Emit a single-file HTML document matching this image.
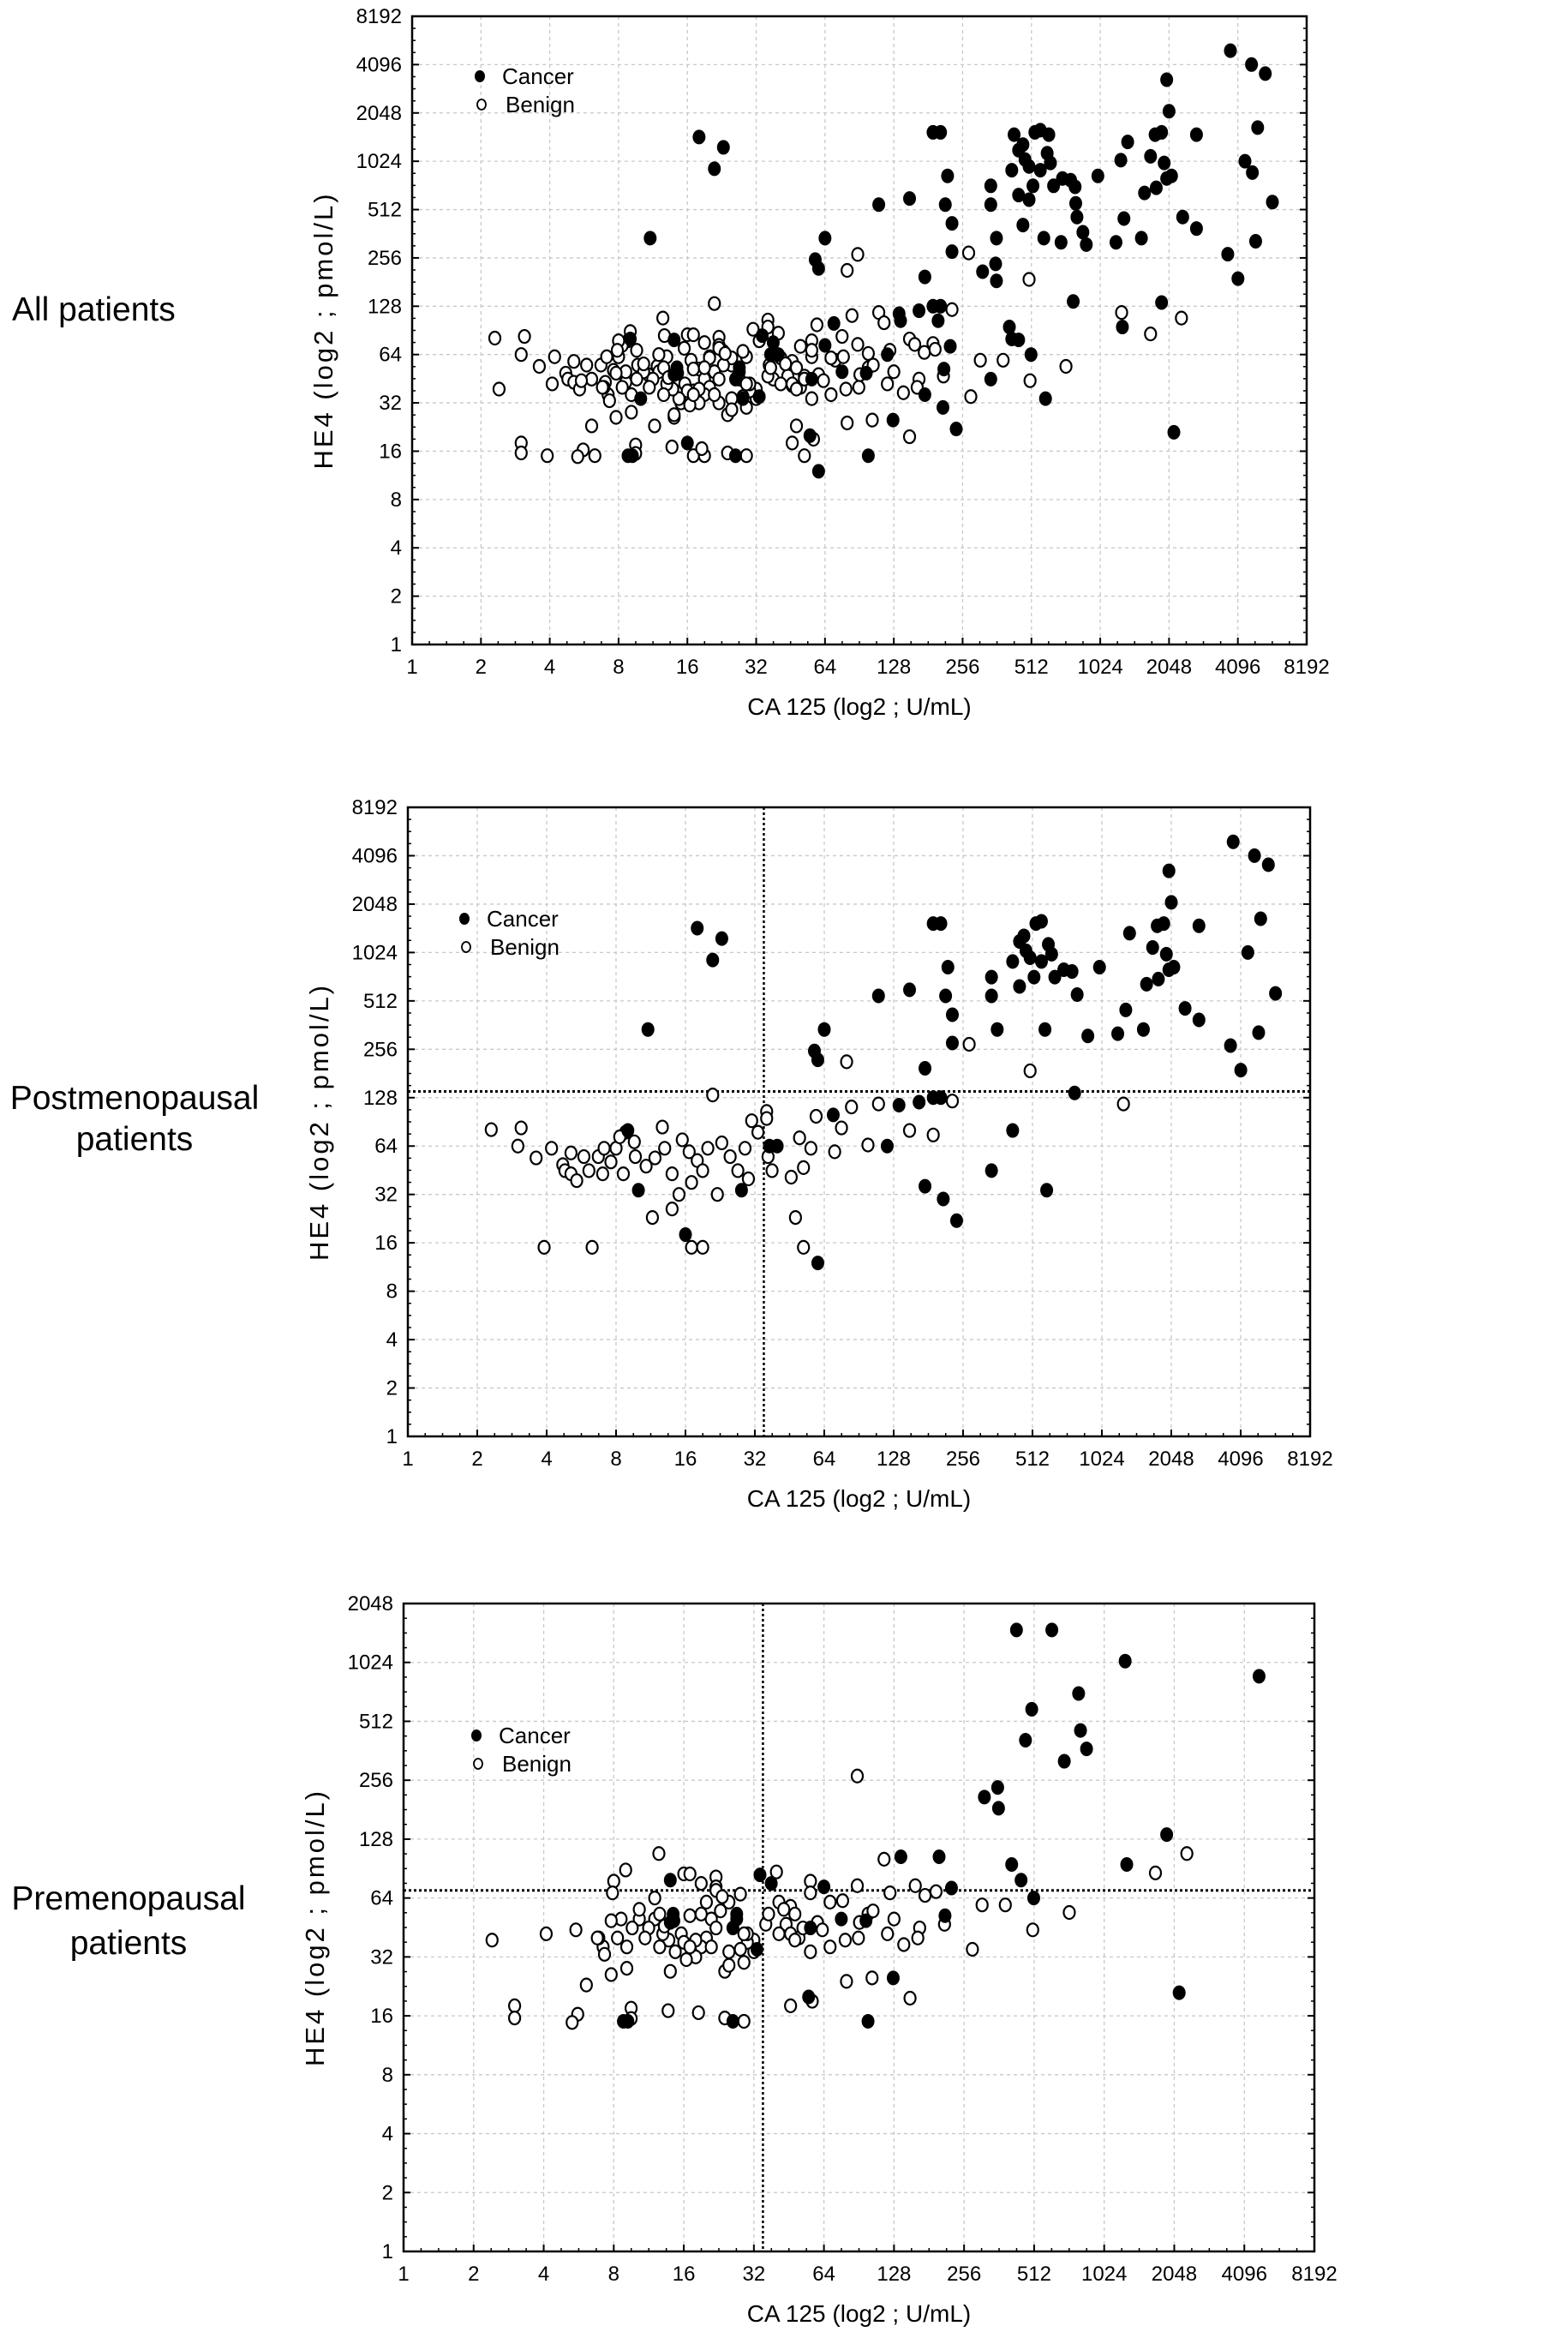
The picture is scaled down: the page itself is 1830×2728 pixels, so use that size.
<!DOCTYPE html>
<html><head><meta charset="utf-8"><style>
html,body{margin:0;padding:0;background:#fff;}
svg{display:block;font-family:"Liberation Sans",Arial,sans-serif;}
</style></head><body>
<svg id="fig" width="1830" height="2728" viewBox="0 0 1830 2728" xmlns="http://www.w3.org/2000/svg">
<text x="14" y="374" font-size="39">All patients</text>
<text x="157" y="1294" font-size="39" text-anchor="middle">Postmenopausal</text>
<text x="157" y="1342" font-size="39" text-anchor="middle">patients</text>
<text x="150" y="2228" font-size="39" text-anchor="middle">Premenopausal</text>
<text x="150" y="2280" font-size="39" text-anchor="middle">patients</text>
</svg>
<script>
// ---- data: [CA125 U/mL] and [HE4 pmol/L] ----
const xTickLabels = [1,2,4,8,16,32,64,128,256,512,1024,2048,4096,8192];
const yTickLabelsFull = [1,2,4,8,16,32,64,128,256,512,1024,2048,4096,8192];
const yTickLabelsPre = [1,2,4,8,16,32,64,128,256,512,1024,2048];
const postCutoffCA = 35;
const postCutoffHE4 = 140;
const preCutoffCA = 35;
const preCutoffHE4 = 70;

const postCancerCA = [11,18,21,23,9,10,16,28,37,40,60,58,60,64,70,110,150,190,205,220,215,135,120,175,210,240,230,230,175,190,165,205,340,340,360,340,420,450,480,420,450,530,560,520,560,620,640,590,760,580,890,780,1000,1350,1550,1300,1600,1780,1900,2000,2048,1950,2100,2700,2700,3800,4700,5400,5000,4400,3700,4100,4900,5800,2350,1200,2000,1700,500,470,600,700,800,1800];
const postCancerHE4 = [340,1450,920,1250,80,34,18,34,64,64,12,250,220,340,100,550,600,1550,1550,830,550,115,64,36,30,22,420,280,195,128,120,128,720,550,340,45,900,1200,1050,80,630,1550,1600,720,900,1000,720,34,780,340,310,137,830,1350,340,450,650,1500,1550,3300,2100,1000,830,390,1500,5000,4100,3600,1660,1024,270,190,325,570,460,320,800,1100,950,1300,1150,800,560,700];
const postBenignCA = [2.3,3.1,3.0,4.7,4.8,5.1,5.4,5.8,6.1,6.7,7,7.6,8,8.8,9.6,10.8,11.8,13,14,15.5,16.6,18,19,20,22,23,25,27,29,30,33,36,36.5,38,36,31,21,17,15,14,11.5,3.9,6.3,17,19,50,52,56,59,46,48,52,71,84,80,76,99,110,150,190,230,272,500,1270,8.3,9.7,12.7,8.6,7.1,5.1,4.2,3.6];
const postBenignHE4 = [81,83,64,49,45,43,39,55,45,55,43,51,62,78,68,48,54,62,43,70,59,52,45,62,32,67,55,45,62,40,78,105,55,45,95,92,133,38,32,26,23,15,15,15,15,72,47,62,98,41,23,15,59,112,214,83,65,117,80,75,122,275,188,117,73,55,84,43,62,58,62,54];

const preCancerCA = [430,610,1260,4740,795,500,810,470,860,690,357,313,360,1900,137,200,1280,410,450,226,510,212,2150,127,99,55,34,38,64,14,14.4,14.4,14,27,27,26,33,56,76,97,26,8.8,9.2,14.5];
const preCancerHE4 = [1500,1500,1040,870,710,590,460,410,370,320,235,210,184,135,104,104,95,95,79,72,64,52,21,25,15,20,84,76,73,79,53,50,48,53,50,45,35,45,50,49,15,15,15,49];
const preBenignCA = [2.4,4.1,5.5,3,3,5.6,5.3,6.1,7.8,9.1,9.5,9.5,13.7,18.5,24,29,14,12.5,9,8,7.9,16,17,19,22,22,22,40,56,56,89,116,123,158,174,194,306,385,89,278,505,725,1700,2320,165,211,162,141,150,80,103,46,57,56,68,79,90,91,99,104,128,120,68,77,46,48,44,46,50,60,63,52,41,43,32,32,30,28,29,25,24,25,28,25,23,21,22,20,19,18,17,15.6,16,16.4,14.7,13.8,13,12.6,12,11.3,10.9,10.3,10.3,9.6,9.1,8.6,8.3,7.8,7.2,6.9,6.8,7.3,12,12.6,13.2,20,19,23.4,30,29,36,37,41,48,18,21,17];
const preBenignHE4 = [39,42,44,18,15.6,16.3,14.8,23,26,28,17.5,15.5,17,16.6,15.6,15,27,108,89,78,68,85,85,76,82,73,70,87,78,68,74,101,68,74,66,69,59,59,269,35,44,54,86,108,45,47,40,37,19.7,24,25,18,19,34,36,39,40,48,53,55,50,42,61,62,58,53,47,42,40,48,44,45,61,56,34,39,38,35,30,34,27,29,67,61,55,50,45,40,36,32,52,42,38,31,34,39,42,36,50,45,40,50,56,45,36,50,40,49,36,40,40,33,64,53,46,61,53,65,42,42,47,53,42,39,39,36,36];

const allCancerCA = postCancerCA.concat(preCancerCA);
const allCancerHE4 = postCancerHE4.concat(preCancerHE4);
const allBenignCA = postBenignCA.concat(preBenignCA);
const allBenignHE4 = postBenignHE4.concat(preBenignHE4);

const NS = "http://www.w3.org/2000/svg";
const svg = document.getElementById('fig');
function mk(tag, attrs, parent){
  const e = document.createElementNS(NS, tag);
  for (const k in attrs) e.setAttribute(k, attrs[k]);
  (parent||svg).appendChild(e);
  return e;
}

function drawPlot(cfg){
  const g = mk('g', {});
  
  
  const L=cfg.left, R=cfg.right, T=cfg.top, B=cfg.bottom;
  const xmaxE = Math.log2(xTickLabels[xTickLabels.length-1]);
  const ymaxE = Math.log2(cfg.yTicks[cfg.yTicks.length-1]);
  const sx = v => L + (Math.log2(v)/xmaxE)*(R-L);
  const sy = v => B - (Math.log2(v)/ymaxE)*(B-T);
  xTickLabels.forEach((t,i)=>{
    const x = sx(t);
    if(i>0 && i<xTickLabels.length-1){
      const gl = mk('line',{x1:x,x2:x,y1:T,y2:B,stroke:'#c8c8c8','stroke-width':1.3,'stroke-dasharray':'4 4'},g);
      
      
    }
    const tk = mk('line',{x1:x,x2:x,y1:B,y2:B-8,stroke:'#000','stroke-width':2},g);
    
    
    if(i<xTickLabels.length-1){
      for(let m=1;m<4;m++){
        const xm = sx(t*Math.pow(2,m/4));
        mk('line',{x1:xm,x2:xm,y1:B,y2:B-4,stroke:'#000','stroke-width':1.5},g);
      }
    }
    const tl = mk('text',{x:x,y:B+34,'font-size':24,'text-anchor':'middle'},g);
    tl.textContent = t;
    
    
  });
  cfg.yTicks.forEach((t,i)=>{
    const y = sy(t);
    if(i>0 && i<cfg.yTicks.length-1){
      const gl = mk('line',{x1:L,x2:R,y1:y,y2:y,stroke:'#c8c8c8','stroke-width':1.3,'stroke-dasharray':'4 4'},g);
      
      
    }
    mk('line',{x1:L,x2:L+8,y1:y,y2:y,stroke:'#000','stroke-width':2},g);
    mk('line',{x1:R,x2:R-8,y1:y,y2:y,stroke:'#000','stroke-width':2},g);
    if(i<cfg.yTicks.length-1){
      for(let m=1;m<4;m++){
        const ym = sy(t*Math.pow(2,m/4));
        mk('line',{x1:L,x2:L+4,y1:ym,y2:ym,stroke:'#000','stroke-width':1.5},g);
        mk('line',{x1:R,x2:R-4,y1:ym,y2:ym,stroke:'#000','stroke-width':1.5},g);
      }
    }
    const tl = mk('text',{x:L-12,y:y+8,'font-size':24,'text-anchor':'end'},g);
    tl.textContent = t;
    
    
  });
  if(cfg.cutX){
    const cx = sx(cfg.cutX), cy = sy(cfg.cutY);
    const v = mk('line',{x1:cx,x2:cx,y1:T,y2:B,stroke:'#000','stroke-width':2.5,'stroke-dasharray':'3 3'},g);
    
    
    const h = mk('line',{x1:L,x2:R,y1:cy,y2:cy,stroke:'#000','stroke-width':3,'stroke-dasharray':'3 3'},g);
    
    
  }
  const fr = mk('rect',{x:L,y:T,width:R-L,height:B-T,fill:'none',stroke:'#000','stroke-width':2.5},g);
  
  
  cfg.bx.forEach((v,i)=>{
    const c = mk('ellipse',{cx:sx(v),cy:sy(cfg.by[i]),rx:6.5,ry:7.5,fill:'#fff',stroke:'#000','stroke-width':2.2},g);
    
    
  });
  cfg.cx.forEach((v,i)=>{
    const c = mk('ellipse',{cx:sx(v),cy:sy(cfg.cy[i]),rx:7.5,ry:8.5,fill:'#000'},g);
    
    
  });
  const lg = mk('g',{},g);
  
  
  const lc = mk('ellipse',{cx:cfg.legX,cy:cfg.legY,rx:6,ry:7,fill:'#000'},lg);
  
  
  const lt = mk('text',{x:cfg.legX+26,y:cfg.legY+9,'font-size':26},lg);
  lt.textContent='Cancer';
  
  
  const lb = mk('ellipse',{cx:cfg.legX+2,cy:cfg.legY+33,rx:5,ry:6,fill:'#fff',stroke:'#000','stroke-width':1.8},lg);
  
  
  const lbt = mk('text',{x:cfg.legX+30,y:cfg.legY+42,'font-size':26},lg);
  lbt.textContent='Benign';
  
  
  const xt = mk('text',{x:(L+R)/2,y:B+82,'font-size':28,'text-anchor':'middle'},g);
  xt.textContent='CA 125 (log2 ; U/mL)';
  
  
  const yx = L-93, yy=(T+B)/2;
  const yt = mk('text',{x:yx,y:yy,'font-size':31,'letter-spacing':3,'text-anchor':'middle',transform:'rotate(-90 '+yx+' '+yy+')'},g);
  yt.textContent='HE4 (log2 ; pmol/L)';
  
  
}

drawPlot({name:'chart-all-patients',left:481,right:1525,top:19,bottom:752,yTicks:yTickLabelsFull,
  bx:allBenignCA,by:allBenignHE4,cx:allCancerCA,cy:allCancerHE4,legX:560,legY:89});
drawPlot({name:'chart-postmenopausal',left:476,right:1529,top:942,bottom:1676,yTicks:yTickLabelsFull,
  bx:postBenignCA,by:postBenignHE4,cx:postCancerCA,cy:postCancerHE4,legX:542,legY:1072,cutX:postCutoffCA,cutY:postCutoffHE4});
drawPlot({name:'chart-premenopausal',left:471,right:1534,top:1871,bottom:2627,yTicks:yTickLabelsPre,
  bx:preBenignCA,by:preBenignHE4,cx:preCancerCA,cy:preCancerHE4,legX:556,legY:2025,cutX:preCutoffCA,cutY:preCutoffHE4});
</script>
</body></html>
